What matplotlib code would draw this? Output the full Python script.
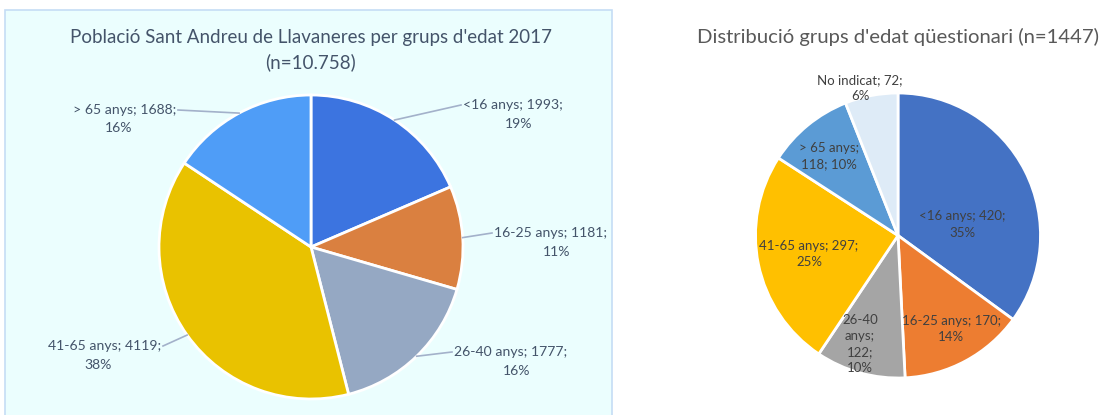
import numpy as np
import matplotlib
matplotlib.use('Agg')
import matplotlib.pyplot as plt
from matplotlib.patches import Rectangle

# data
groups_pop = ['<16 anys', '16-25 anys', '26-40 anys', '41-65 anys', '> 65 anys']
pop = [1993, 1181, 1777, 4119, 1688]
pct_pop = [19, 11, 16, 38, 16]
groups_q = ['<16 anys', '16-25 anys', '26-40 anys', '41-65 anys', '> 65 anys', 'No indicat']
resp = [420, 170, 122, 297, 118, 72]
pct_q = [35, 14, 10, 25, 10, 6]

title_pop = "Població Sant Andreu de Llavaneres per grups d'edat 2017\n(n=10.758)"
title_q = "Distribució grups d'edat qüestionari (n=1447)"

cols_pop = ['#3C74E0', '#DA8040', '#95A8C3', '#E9C200', '#4F9DF7']
cols_q = ['#4472C4', '#ED7D31', '#A5A5A5', '#FFC000', '#5B9BD5', '#DEEBF7']

plt.rcParams['font.family'] = ['Lato', 'DejaVu Sans']

W, H = 1104, 415
fig = plt.figure(figsize=(W / 100, H / 100), dpi=100)
ax = fig.add_axes([0, 0, 1, 1])


def py(y):
    return H - y


# left panel background
ax.add_patch(Rectangle((5, py(430)), 607, 420, facecolor='#EBFEFE',
                       edgecolor='#C5DDF5', lw=1.2, zorder=0))

c1 = (311, py(247))
r1 = 152
w1, _ = ax.pie(pop, colors=cols_pop, startangle=90, counterclock=False,
               center=c1, radius=r1, frame=True,
               wedgeprops=dict(edgecolor='white', linewidth=2))

# label anchors (first line, side nearest the pie) in pixels
lab1 = [(461, 105, 'left'), (492, 233, 'left'), (452, 352, 'left'),
        (163, 346, 'right'), (178, 110, 'right')]
for w, g, v, p, (lx, ly, side) in zip(w1, groups_pop, pop, pct_pop, lab1):
    a = np.deg2rad((w.theta1 + w.theta2) / 2)
    ex, ey = c1[0] + r1 * np.cos(a), c1[1] + r1 * np.sin(a)
    ax.plot([ex, lx], [ey, py(ly)], color='#A3B1CA', lw=1.2, zorder=3)
    t = ax.text(lx + (2 if side == 'left' else -2), py(ly), f'{g}; {v};',
                ha=side, va='center', fontsize=10.1, color='#44546A')
    fig.canvas.draw()
    bb = t.get_window_extent().transformed(ax.transData.inverted())
    ax.text((bb.x0 + bb.x1) / 2, py(ly) - 18.5, f'{p}%', ha='center',
            va='center', fontsize=10.1, color='#44546A')

ax.text(311, py(50), title_pop, ha='center', va='center', fontsize=13.5,
        color='#44546A', linespacing=1.45)

c2 = (898, py(235.5))
r2 = 142.5
w2, _ = ax.pie(resp, colors=cols_q, startangle=90, counterclock=False,
               center=c2, radius=r2, frame=True,
               wedgeprops=dict(edgecolor='white', linewidth=2))

lab2 = [(962, 224.5), (951, 329), (860, 344), (809, 254), (829, 156.5), (860, 88)]
for g, v, p, (lx, ly) in zip(groups_q, resp, pct_q, lab2):
    if g == '26-40 anys':
        s = f'26-40\nanys;\n{v};\n{p}%'
    elif g == '> 65 anys':
        s = f'{g};\n{v}; {p}%'
    else:
        s = f'{g}; {v};\n{p}%'
    ax.text(lx, py(ly), s, ha='center', va='center', fontsize=9.5,
            color='#404040', linespacing=1.42)

ax.text(898, py(37), title_q, ha='center', va='center', fontsize=14.6,
        color='#595959')

ax.set_xlim(0, W)
ax.set_ylim(0, H)
ax.set_aspect('auto')
ax.axis('off')

fig.savefig('out.png', dpi=100, facecolor='white')
